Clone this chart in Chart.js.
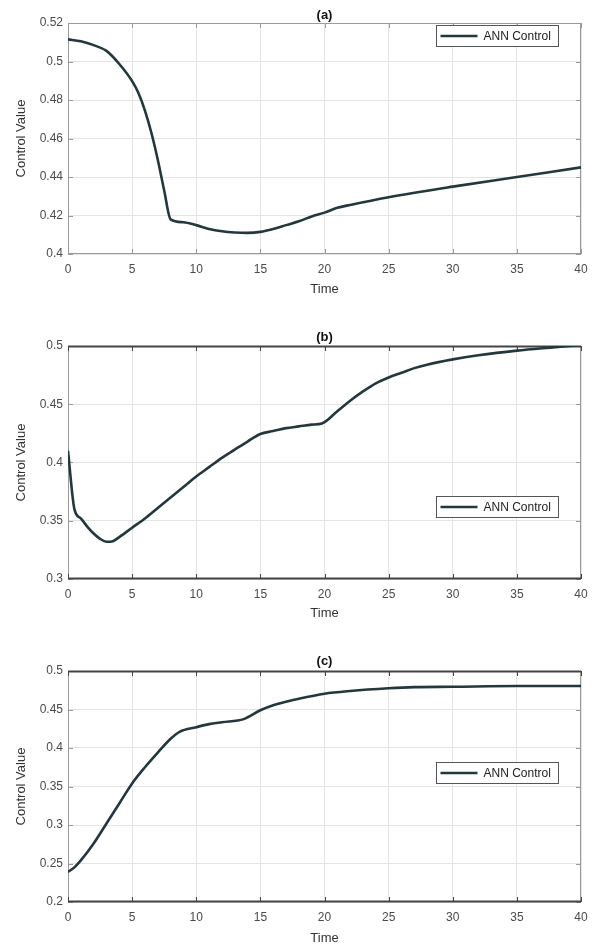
<!DOCTYPE html>
<html>
<head>
<meta charset="utf-8">
<script src="https://cdn.jsdelivr.net/npm/chart.js@4.4.0/dist/chart.umd.min.js"></script>
<style>
  html, body { margin: 0; padding: 0; background: #fff; }
  canvas { display: block; }
</style>
</head>
<body>
<canvas id="chartA" width="601" height="300"></canvas>
<canvas id="chartB" width="601" height="325"></canvas>
<canvas id="chartC" width="601" height="324"></canvas>
<script>
// values
const timeA = [0, 1, 2, 3, 4, 5, 5.5, 6, 6.5, 7, 7.5, 8, 9, 10, 11, 12, 13, 14, 15, 16, 17, 18, 19, 20, 21, 22, 25, 30, 35, 40];
const controlA = [0.5115, 0.5105, 0.5085, 0.5055, 0.4987, 0.4898, 0.4835, 0.4745, 0.463, 0.449, 0.433, 0.418, 0.4165, 0.415, 0.413, 0.4118, 0.4112, 0.411, 0.4115, 0.413, 0.415, 0.417, 0.4195, 0.4215, 0.424, 0.4255, 0.4295, 0.435, 0.440, 0.445];

const timeB = [0, 0.5, 1, 1.5, 2, 2.5, 3, 3.5, 4, 5, 6, 7, 8, 9, 10, 11, 12, 13, 14, 15, 16, 17, 18, 19, 19.8, 21, 22, 23, 24, 25, 26, 27, 28, 30, 32, 35, 38, 40];
const controlB = [0.41, 0.36, 0.352, 0.345, 0.339, 0.3345, 0.332, 0.3325, 0.336, 0.344, 0.352, 0.361, 0.370, 0.379, 0.388, 0.396, 0.404, 0.411, 0.418, 0.4245, 0.427, 0.4295, 0.431, 0.4325, 0.4335, 0.444, 0.453, 0.461, 0.468, 0.473, 0.477, 0.481, 0.484, 0.4885, 0.492, 0.496, 0.499, 0.501];

const timeC = [0, 0.5, 1, 2, 3, 4, 5, 6, 7, 8, 8.7, 10, 11, 12, 13.7, 15, 16, 17, 18, 20, 22, 25, 27, 30, 35, 40];
const controlC = [0.239, 0.245, 0.254, 0.276, 0.302, 0.328, 0.354, 0.375, 0.394, 0.412, 0.421, 0.427, 0.431, 0.4335, 0.4375, 0.449, 0.4555, 0.46, 0.464, 0.4705, 0.474, 0.4775, 0.479, 0.4795, 0.4805, 0.4805];

const xTicks = [0, 5, 10, 15, 20, 25, 30, 35, 40];
const yTicksA = [0.4, 0.42, 0.44, 0.46, 0.48, 0.5, 0.52];
const yTicksB = [0.3, 0.35, 0.4, 0.45, 0.5];
const yTicksC = [0.2, 0.25, 0.3, 0.35, 0.4, 0.45, 0.5];

const seriesLabel = 'ANN Control';
const xLabel = 'Time';
const yLabel = 'Control Value';

Chart.defaults.font.family = '"Liberation Sans", Arial, sans-serif';
Chart.defaults.animation = false;

const lineColor = '#22383d';

// matlab-ish box, inward ticks and the legend box
const axesBox = {
  id: 'axesBox',
  beforeDatasetsDraw(chart, args, o) {
    const { ctx, chartArea: a, scales: { x, y } } = chart;
    ctx.save();
    ctx.lineWidth = 1;
    ctx.strokeStyle = o.vColor;
    ctx.beginPath();
    ctx.moveTo(a.left + 0.5, a.top); ctx.lineTo(a.left + 0.5, a.bottom);
    ctx.moveTo(a.right - 0.5, a.top); ctx.lineTo(a.right - 0.5, a.bottom);
    y.ticks.forEach(t => {
      const py = Math.round(y.getPixelForValue(t.value)) + 0.5;
      ctx.moveTo(a.left, py); ctx.lineTo(a.left + 5, py);
      ctx.moveTo(a.right, py); ctx.lineTo(a.right - 5, py);
    });
    ctx.stroke();
    ctx.strokeStyle = o.hColor;
    ctx.lineWidth = o.hWidth;
    ctx.beginPath();
    ctx.moveTo(a.left, a.top + 0.5); ctx.lineTo(a.right, a.top + 0.5);
    ctx.moveTo(a.left, a.bottom - 0.5); ctx.lineTo(a.right, a.bottom - 0.5);
    ctx.stroke();
    ctx.lineWidth = 1;
    ctx.beginPath();
    x.ticks.forEach(t => {
      const px = Math.round(x.getPixelForValue(t.value)) + 0.5;
      ctx.moveTo(px, a.bottom); ctx.lineTo(px, a.bottom - 5);
      ctx.moveTo(px, a.top); ctx.lineTo(px, a.top + 5);
    });
    ctx.stroke();
    ctx.restore();
  },
  afterDatasetsDraw(chart, args, o) {
    const { ctx, chartArea: a } = chart;
    const ds = chart.data.datasets[0];
    const w = 122, h = 21;
    const left = a.right - 23 - w + 0.5;
    const top = a.top + o.legendTop + 0.5;
    ctx.save();
    ctx.fillStyle = '#fff';
    ctx.fillRect(left, top, w, h);
    ctx.strokeStyle = '#555';
    ctx.lineWidth = 1;
    ctx.strokeRect(left, top, w, h);
    ctx.strokeStyle = ds.borderColor;
    ctx.lineWidth = ds.borderWidth;
    ctx.beginPath();
    ctx.moveTo(left + 4, top + h / 2);
    ctx.lineTo(left + 41, top + h / 2);
    ctx.stroke();
    ctx.fillStyle = '#222';
    ctx.font = '12px "Liberation Sans", Arial, sans-serif';
    ctx.textBaseline = 'middle';
    ctx.fillText(ds.label, left + 47, top + h / 2 + 0.5);
    ctx.restore();
  }
};

function makePanel(id, title, times, values, yTicks, p) {
  const fmt = v => String(+Number(v).toFixed(3));
  return new Chart(document.getElementById(id), {
    type: 'line',
    data: {
      datasets: [{
        label: seriesLabel,
        data: times.map((t, i) => ({ x: t, y: values[i] })),
        borderColor: lineColor,
        borderWidth: 2.6,
        pointRadius: 0,
        cubicInterpolationMode: 'monotone',
        fill: false
      }]
    },
    options: {
      responsive: false,
      layout: { padding: { left: 0, right: 20, top: 0, bottom: p.bottom } },
      plugins: {
        legend: { display: false },
        tooltip: { enabled: false },
        title: {
          display: true,
          text: title,
          fullSize: false,
          color: '#111',
          font: { size: 13, weight: 'bold' },
          padding: { top: p.titleTop, bottom: p.titleBottom }
        },
        axesBox: { vColor: p.vColor, hColor: p.hColor, hWidth: p.hWidth, legendTop: p.legendTop }
      },
      scales: {
        x: {
          type: 'linear',
          min: 0,
          max: 40,
          afterBuildTicks: s => { s.ticks = xTicks.map(v => ({ value: v })); },
          afterFit: s => { s.height = p.xH; },
          grid: { color: '#e4e4e4', drawTicks: false },
          border: { display: false },
          ticks: { padding: 8.8, color: '#4a4a4a', font: { size: 12 }, maxRotation: 0, autoSkip: false, callback: fmt },
          title: { display: true, text: xLabel, color: '#333', font: { size: 13 }, padding: 0 }
        },
        y: {
          type: 'linear',
          min: yTicks[0],
          max: yTicks[yTicks.length - 1],
          afterBuildTicks: s => { s.ticks = yTicks.map(v => ({ value: v })); },
          afterFit: s => { s.width = 68; },
          grid: { color: '#e4e4e4', drawTicks: false },
          border: { display: false },
          ticks: { padding: 5, color: '#4a4a4a', font: { size: 12 }, autoSkip: false, callback: fmt },
          title: { display: true, text: yLabel, color: '#333', font: { size: 13 }, padding: { top: 14, bottom: 0 } }
        }
      }
    },
    plugins: [axesBox]
  });
}

makePanel('chartA', '(a)', timeA, controlA, yTicksA,
  { bottom: 3.2, xH: 42.8, titleTop: 7.2, titleBottom: 0.2, vColor: '#9a9a9a', hColor: '#9a9a9a', hWidth: 1, legendTop: 2 });
makePanel('chartB', '(b)', timeB, controlB, yTicksB,
  { bottom: 4.2, xH: 41.8, titleTop: 29.2, titleBottom: 1.2, vColor: '#9a9a9a', hColor: '#444', hWidth: 2, legendTop: 150 });
makePanel('chartC', '(c)', timeC, controlC, yTicksC,
  { bottom: 3.2, xH: 43.8, titleTop: 28.2, titleBottom: 2.2, vColor: '#9a9a9a', hColor: '#444', hWidth: 2, legendTop: 91 });
</script>
</body>
</html>
